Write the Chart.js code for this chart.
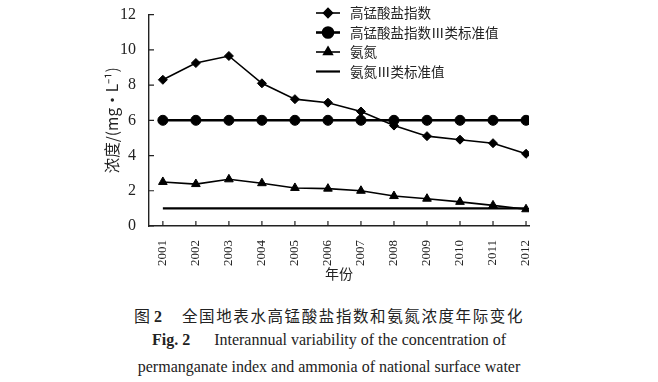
<!DOCTYPE html>
<html>
<head>
<meta charset="utf-8">
<script src="https://cdn.jsdelivr.net/npm/chart.js@4"></script>
<style>
  body { margin: 0; background: #fff; }
  #wrap { position: relative; width: 658px; height: 382px; }
  canvas { position: absolute; left: 0; top: 0; }
  .cap { position: absolute; left: 0; width: 658px; text-align: center; color: #222;
         font-family: "Liberation Serif", "Noto Sans CJK SC", serif; font-size: 16px; white-space: nowrap; }
</style>
</head>
<body>
<div id="wrap">
  <canvas id="waterChart" width="658" height="290"></canvas>
  <div class="cap" style="top:303px;"><span style="font-family:'Noto Sans CJK SC';">图</span> <b>2</b>&nbsp;&nbsp;&nbsp;&nbsp;&nbsp;<span style="font-family:'Noto Sans CJK SC'; font-size:15.5px; letter-spacing:1.6px;">全国地表水高锰酸盐指数和氨氮浓度年际变化</span></div>
  <div class="cap" style="top:331px;"><b>Fig. 2</b>&nbsp;&nbsp;&nbsp;&nbsp;&nbsp; Interannual variability of the concentration of</div>
  <div class="cap" style="top:358px;">permanganate index and ammonia of national surface water</div>
</div>
<script>
const years = [2001, 2002, 2003, 2004, 2005, 2006, 2007, 2008, 2009, 2010, 2011, 2012];
const permanganate = [8.3, 9.25, 9.65, 8.1, 7.2, 7.0, 6.5, 5.7, 5.1, 4.9, 4.7, 4.1];
const permanganateStd = [6, 6, 6, 6, 6, 6, 6, 6, 6, 6, 6, 6];
const ammonia = [2.5, 2.38, 2.65, 2.43, 2.16, 2.12, 2.0, 1.7, 1.55, 1.37, 1.17, 0.95];
const ammoniaStd = [1, 1, 1, 1, 1, 1, 1, 1, 1, 1, 1, 1];
const yTicks = [0, 2, 4, 6, 8, 10, 12];

const serif = "'Liberation Serif', 'Times New Roman', serif";
const toPoints = arr => arr.map((v, i) => ({ x: years[i], y: v }));

// legend drawn by hand: line sample with marker, like the printed figure
const lineLegend = {
    id: 'lineLegend',
    afterDraw(chart) {
        const ctx = chart.ctx;
        ctx.save();
        chart.data.datasets.forEach((ds, i) => {
            const y = 13 + i * 19.5;
            ctx.strokeStyle = '#000';
            ctx.fillStyle = '#000';
            ctx.lineWidth = ds.borderWidth;
            ctx.beginPath();
            ctx.moveTo(316, y);
            ctx.lineTo(340, y);
            ctx.stroke();
            if (ds.pointRadius > 0) {
                Chart.helpers.drawPoint(ctx, {
                    pointStyle: ds.pointStyle, radius: ds.pointRadius, rotation: 0, borderWidth: 1
                }, 328, y);
            }
            ctx.font = '13.5px "Noto Sans CJK SC"';
            ctx.textBaseline = 'middle';
            ctx.fillStyle = '#222';
            ctx.fillText(ds.label, 350, y);
        });
        ctx.restore();
    }
};

// inward tick marks on both axes
const innerTicks = {
    id: 'innerTicks',
    afterDraw(chart) {
        const ctx = chart.ctx;
        const xs = chart.scales.x, ys = chart.scales.y;
        const a = chart.chartArea;
        ctx.save();
        ctx.strokeStyle = '#222';
        ctx.lineWidth = 1.2;
        ctx.beginPath();
        years.forEach(v => {
            const px = xs.getPixelForValue(v);
            ctx.moveTo(px, a.bottom);
            ctx.lineTo(px, a.bottom - 5);
        });
        yTicks.forEach(v => {
            const py = ys.getPixelForValue(v);
            ctx.moveTo(a.left, py);
            ctx.lineTo(a.left + 5, py);
        });
        ctx.stroke();
        ctx.restore();
    }
};

const ctx = document.getElementById('waterChart').getContext('2d');
const waterChart = new Chart(ctx, {
    type: 'line',
    data: {
        datasets: [{
            label: '高锰酸盐指数',
            data: toPoints(permanganate),
            borderColor: '#000',
            backgroundColor: '#000',
            borderWidth: 1.6,
            pointStyle: 'rectRot',
            pointRadius: 4.5,
            pointBorderWidth: 1
        }, {
            label: '高锰酸盐指数Ⅲ类标准值',
            data: toPoints(permanganateStd),
            borderColor: '#000',
            backgroundColor: '#000',
            borderWidth: 2.6,
            pointStyle: 'circle',
            pointRadius: 5,
            pointBorderWidth: 1
        }, {
            label: '氨氮',
            data: toPoints(ammonia),
            borderColor: '#000',
            backgroundColor: '#000',
            borderWidth: 1.6,
            pointStyle: 'triangle',
            pointRadius: 5,
            pointBorderWidth: 1
        }, {
            label: '氨氮Ⅲ类标准值',
            data: toPoints(ammoniaStd),
            borderColor: '#000',
            backgroundColor: '#000',
            borderWidth: 2.2,
            pointRadius: 0
        }]
    },
    options: {
        responsive: false,
        animation: false,
        layout: { padding: { left: 100, right: 129, top: 8, bottom: 0 } },
        plugins: {
            legend: { display: false },
            tooltip: { enabled: false }
        },
        scales: {
            x: {
                type: 'linear',
                min: 2000.58,
                max: 2012.09,
                afterBuildTicks: s => { s.ticks = years.map(v => ({ value: v })); },
                afterFit: s => { s.height = 64; },
                grid: { display: false },
                border: { color: '#222', width: 1.4 },
                ticks: {
                    color: '#222',
                    maxRotation: 90,
                    minRotation: 90,
                    padding: 6,
                    font: { family: serif, size: 13 },
                    callback: v => String(v)
                },
                title: {
                    display: true,
                    text: '年份',
                    color: '#222',
                    padding: { top: 4, bottom: 8 },
                    font: { family: "'Noto Sans CJK SC'", size: 14 }
                }
            },
            y: {
                min: 0,
                max: 12,
                afterBuildTicks: s => { s.ticks = yTicks.map(v => ({ value: v })); },
                afterFit: s => { s.width = 49; },
                grid: { display: false },
                border: { color: '#222', width: 1.4 },
                ticks: {
                    color: '#222',
                    padding: 5,
                    font: { family: serif, size: 16 }
                },
                title: {
                    display: true,
                    text: '浓度/(mg·L⁻¹)',
                    color: '#222',
                    padding: { top: 3, bottom: 4 },
                    font: { family: "'Noto Sans CJK SC'", size: 15.5 }
                }
            }
        }
    },
    plugins: [lineLegend, innerTicks]
});
</script>
</body>
</html>
